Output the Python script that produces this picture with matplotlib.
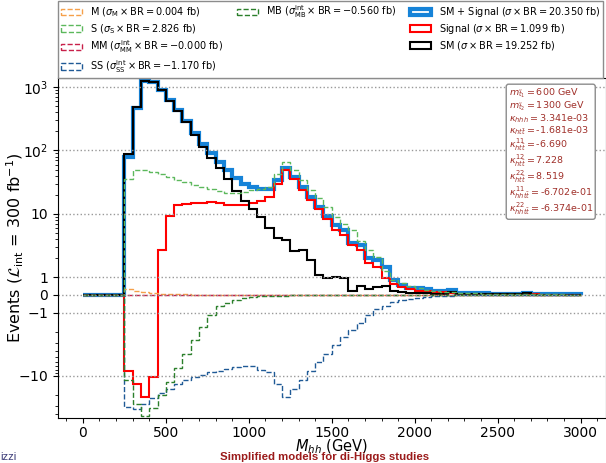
import numpy as np
import matplotlib
matplotlib.use('Agg')
import matplotlib.pyplot as plt
from matplotlib.patches import Patch
from matplotlib.ticker import FixedLocator, MultipleLocator, SymmetricalLogLocator

# 50 GeV bins from 0 to 3000 GeV
edges = np.arange(0, 3050, 50)

# events per bin (L = 300 fb^-1)
sm = [0, 0, 0, 0, 0,
      88, 480, 1260, 1200, 910, 610, 415, 280, 173, 112,
      75, 52, 35.5, 23, 16, 11.9, 8.8, 6.1, 4.1, 3.9,
      2.6, 2.7, 1.9, 1.08, 0.95, 1.0, 0.97, 0.25, 0.53, 0.35,
      0.44, 0.48, 0.21, 0.15, 0.1, 0.12, 0.12, 0.08, 0.08, 0.19,
      0.05, 0.05, 0.04, 0.04, 0.03, 0.03, 0.03, 0.03, 0.1, 0.02,
      0.02, 0.02, 0.02, 0.02, 0.02]

signal = [0, 0, 0, 0, 0,
          -8.2, -13.3, -21.6, -10.4, 2.7, 9.2, 13.6, 14.3, 14.8, 15.0,
          15.3, 14.6, 13.6, 14.0, 14.0, 14.8, 15.7, 18.4, 30, 49,
          35, 24, 16.5, 12, 8.2, 5.6, 4.6, 3.2, 2.7, 1.66,
          1.44, 0.97, 0.63, 0.44, 0.31, 0.25, 0.21, 0.15, 0.15, 0.1,
          0.08, 0.06, 0.05, 0.05, 0.04, 0.04, 0.03, 0.03, 0.03, 0.03,
          0.02, 0.02, 0.02, 0.02, 0.02]

m_comp = [0, 0, 0, 0, 0,
          0.33, 0.25, 0.17, 0.12, 0.08, 0.06, 0.04, 0.03, 0.02, 0.02,
          0.01, 0.01, 0.01, 0.01, 0.01, 0, 0, 0, 0, 0,
          0, 0, 0, 0, 0, 0, 0, 0, 0, 0,
          0, 0, 0, 0, 0, 0, 0, 0, 0, 0,
          0, 0, 0, 0, 0, 0, 0, 0, 0, 0,
          0, 0, 0, 0, 0]

s_comp = [0, 0, 0, 0, 0,
          35, 49, 50, 46.5, 42.5, 37.6, 34.7, 31.5, 29, 26.5,
          25, 23, 21.6, 21.6, 22, 23.5, 25, 27, 43, 66,
          49, 34, 24, 18, 12.7, 8.9, 7.0, 5.6, 3.8, 2.7,
          2.07, 1.28, 0.85, 0.66, 0.5, 0.37, 0.3, 0.25, 0.19, 0.15,
          0.12, 0.1, 0.09, 0.08, 0.07, 0.06, 0.05, 0.05, 0.04, 0.04,
          0.03, 0.03, 0.03, 0.02, 0.02]

mm_comp = [0, 0, 0, 0, 0,
           -0.002, -0.002, -0.001, -0.001, 0, 0, 0, 0, 0, 0,
           0, 0, 0, 0, 0, 0, 0, 0, 0, 0,
           0, 0, 0, 0, 0, 0, 0, 0, 0, 0,
           0, 0, 0, 0, 0, 0, 0, 0, 0, 0,
           0, 0, 0, 0, 0, 0, 0, 0, 0, 0,
           0, 0, 0, 0, 0]

ss_comp = [0, 0, 0, 0, 0,
           -31, -33, -27.5, -22.5, -18.7, -15.8, -13.4, -11.7, -10.3, -9.6,
           -8.8, -8.3, -7.7, -7.2, -7.0, -7.0, -8.0, -8.7, -13.3, -21.6,
           -15.9, -11.4, -8.2, -6.1, -4.46, -3.3, -2.43, -1.86, -1.44, -1.08,
           -0.81, -0.63, -0.42, -0.31, -0.25, -0.18, -0.12, -0.08, -0.06, -0.04,
           -0.03, -0.02, -0.02, -0.02, -0.02, -0.02, -0.01, -0.01, -0.01, -0.01,
           -0.01, -0.01, -0.01, -0.01, -0.01]

mb_comp = [0, 0, 0, 0, 0,
           -11.5, -27.6, -43, -32, -20, -12.5, -7.4, -4.5, -2.74, -1.67,
           -1.1, -0.65, -0.45, -0.28, -0.17, -0.11, -0.08, -0.06, -0.05, -0.04,
           -0.03, -0.03, -0.02, -0.02, -0.02, -0.01, -0.01, -0.01, -0.01, -0.01,
           0, 0, 0, 0, 0, 0, 0, 0, 0, 0,
           0, 0, 0, 0, 0, 0, 0, 0, 0, 0,
           0, 0, 0, 0, 0]

sm_signal = np.array(sm) + np.array(signal)

labels = {
    'M': r'M ($\sigma_{\rm M} \times {\rm BR} = 0.004$ fb)',
    'S': r'S ($\sigma_{\rm S} \times {\rm BR} = 2.826$ fb)',
    'MM': r'MM ($\sigma^{\rm int}_{\rm MM} \times {\rm BR} = -0.000$ fb)',
    'SS': r'SS ($\sigma^{\rm int}_{\rm SS} \times {\rm BR} = -1.170$ fb)',
    'MB': r'MB ($\sigma^{\rm int}_{\rm MB} \times {\rm BR} = -0.560$ fb)',
    'SMS': r'SM $+$ Signal ($\sigma \times {\rm BR} = 20.350$ fb)',
    'Sig': r'Signal ($\sigma \times {\rm BR} = 1.099$ fb)',
    'SM': r'SM ($\sigma \times {\rm BR} = 19.252$ fb)',
}

c_m = '#f5a04a'
c_s = '#5cb85c'
c_mm = '#c8204a'
c_ss = '#1f5a96'
c_mb = '#2a7f2a'
c_sms = '#1683d8'

info_lines = [
    r'$m_{\tilde{t}_1} = $600 GeV',
    r'$m_{\tilde{t}_2} = $1300 GeV',
    r'$\kappa_{hhh} = $3.341e-03',
    r'$\kappa_{ht\bar{t}} = $-1.681e-03',
    r'$\kappa^{11}_{ht\bar{t}} = $-6.690',
    r'$\kappa^{12}_{ht\bar{t}} = $7.228',
    r'$\kappa^{22}_{ht\bar{t}} = $8.519',
    r'$\kappa^{11}_{hht\bar{t}} = $-6.702e-01',
    r'$\kappa^{22}_{hht\bar{t}} = $-6.374e-01',
]

fig = plt.figure(figsize=(6.06, 4.63), dpi=100)
ax = fig.add_axes([58 / 606, 45 / 463, 547.5 / 606, 340 / 463])

ax.set_yscale('symlog', linthresh=1, linscale=0.25)

ax.stairs(sm_signal, edges, color=c_sms, lw=3)
ax.stairs(signal, edges, color='red', lw=1.5)
ax.stairs(sm, edges, color='black', lw=1.5)
ax.stairs(m_comp, edges, color=c_m, lw=1, ls='--')
ax.stairs(s_comp, edges, color=c_s, lw=1, ls='--')
ax.stairs(mm_comp, edges, color=c_mm, lw=1, ls='--')
ax.stairs(ss_comp, edges, color=c_ss, lw=1, ls='--')
ax.stairs(mb_comp, edges, color=c_mb, lw=1, ls='--')

ax.set_xlim(-150, 3150)
ax.set_ylim(-46, 1390)

yticks = [-10, -1, 0, 1, 10, 100, 1000]
ax.yaxis.set_major_locator(FixedLocator(yticks))
ax.set_yticklabels([r'$-10$', r'$-1$', '0', '1', '10', r'$10^2$', r'$10^3$'])
ax.yaxis.set_minor_locator(SymmetricalLogLocator(base=10, linthresh=1,
                                                 subs=np.arange(2, 10)))
ax.xaxis.set_major_locator(MultipleLocator(500))
ax.xaxis.set_minor_locator(MultipleLocator(100))
ax.tick_params(labelsize=10)
ax.tick_params(axis='x', pad=2.5)
ax.grid(True, 'major', 'y', ls=':', lw=1, color='0.6')

ax.set_xlabel(r'$M_{hh}$ (GeV)', fontsize=10.5)
ax.xaxis.set_label_coords(0.5, -0.058)
ax.set_ylabel(r'Events ($\mathcal{L}_{\rm int}$ = 300 fb$^{-1}$)', fontsize=11.5)
ax.yaxis.set_label_coords(-0.058, 0.5)

ax.text(0.823, 0.975, '\n'.join(info_lines), transform=ax.transAxes,
        fontsize=6.8, color='#a0302a', va='top', ha='left', linespacing=0.95,
        bbox=dict(boxstyle='round,pad=0.25', fc='white', ec='0.55'))

blank = Patch(facecolor='none', edgecolor='none')
handles = [
    Patch(facecolor='none', edgecolor=c_m, ls='--', lw=1),
    Patch(facecolor='none', edgecolor=c_s, ls='--', lw=1),
    Patch(facecolor='none', edgecolor=c_mm, ls='--', lw=1),
    Patch(facecolor='none', edgecolor=c_ss, ls='--', lw=1),
    Patch(facecolor='none', edgecolor=c_mb, ls='--', lw=1),
    blank, blank, blank,
    Patch(facecolor='none', edgecolor=c_sms, lw=3),
    Patch(facecolor='none', edgecolor='red', lw=1.5),
    Patch(facecolor='none', edgecolor='black', lw=1.5),
    blank,
]
leg_labels = [labels['M'], labels['S'], labels['MM'], labels['SS'],
              labels['MB'], '', '', '',
              labels['SMS'], labels['Sig'], labels['SM'], '']
leg = ax.legend(handles, leg_labels, ncol=3, loc='lower left',
                bbox_to_anchor=(0, 1.0), borderaxespad=0, fontsize=7,
                fancybox=False, edgecolor='0.55', framealpha=1,
                handlelength=2.2, handleheight=0.7, labelspacing=0.3,
                columnspacing=1.4, handletextpad=0.8, borderpad=0.3)
leg.get_frame().set_linewidth(1)

fig.text(325 / 606, 1 / 463, 'Simplified models for di-Higgs studies',
         ha='center', va='bottom', fontsize=8.2, fontweight='bold',
         color='#9b1b1b', family='Liberation Sans')
fig.text(0.0, 1 / 463, 'izzi', ha='left', va='bottom', fontsize=8,
         color='#3c3c78', family='Liberation Sans')

fig.savefig('out.png', dpi=100)
